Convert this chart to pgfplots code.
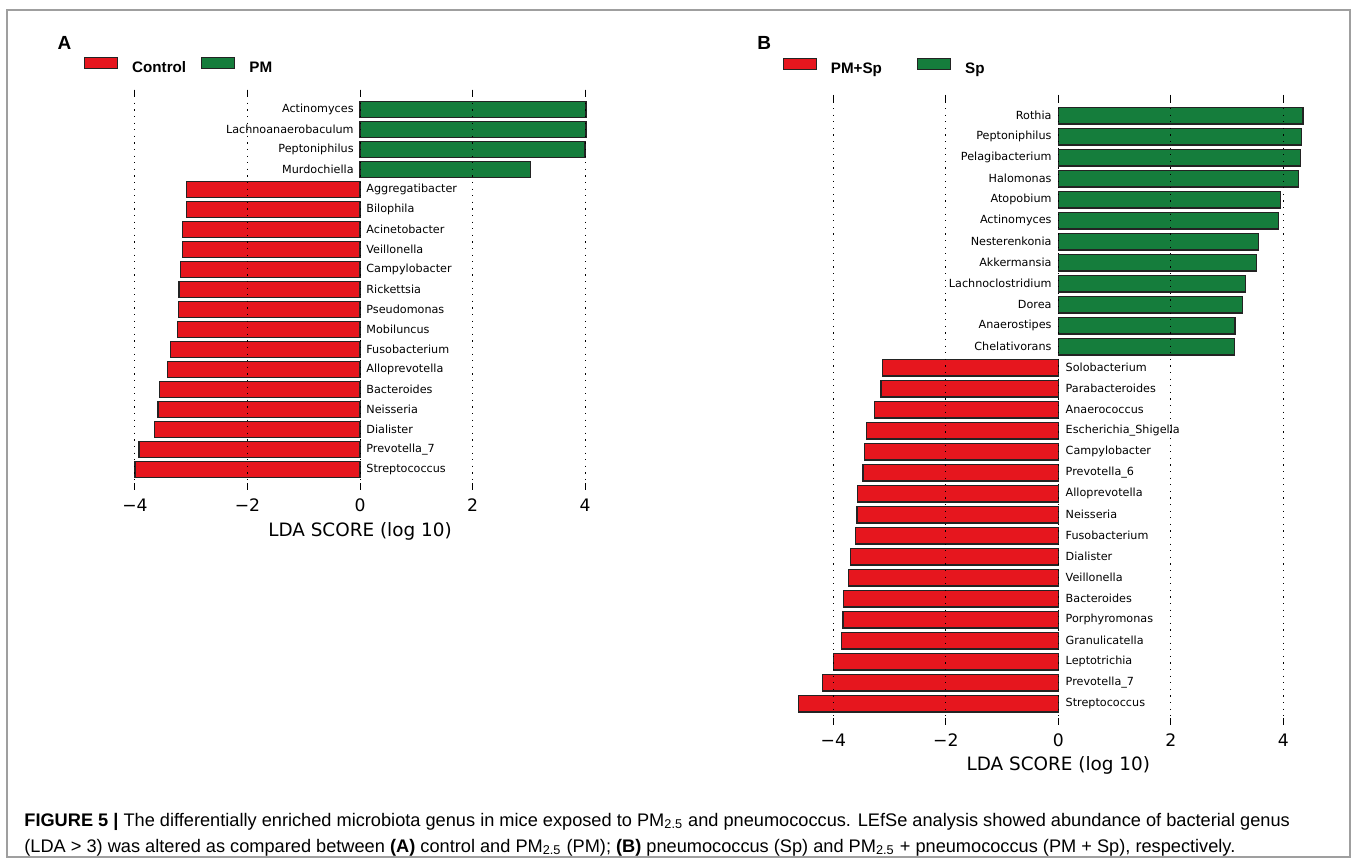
\documentclass[border=0pt]{standalone}
\usepackage{fontspec}
\setmainfont{DejaVu Sans}
\newfontfamily\lib{Liberation Sans}
\usepackage{pgfplots}
\pgfplotsset{compat=1.18}
\usepackage{pgfplotstable}

\definecolor{barred}{RGB}{230,22,30}
\definecolor{bargreen}{RGB}{21,125,60}
\definecolor{edge}{RGB}{35,35,35}

% panel A: control vs PM
\pgfplotstableread{
row score name
0 4.02 Actinomyces
1 4.02 Lachnoanaerobaculum
2 4.00 Peptoniphilus
3 3.03 Murdochiella
}\greenA
\pgfplotstableread{
row score name
4 -3.08 Aggregatibacter
5 -3.09 Bilophila
6 -3.15 Acinetobacter
7 -3.16 Veillonella
8 -3.19 Campylobacter
9 -3.22 Rickettsia
10 -3.23 Pseudomonas
11 -3.25 Mobiluncus
12 -3.37 Fusobacterium
13 -3.42 Alloprevotella
14 -3.57 Bacteroides
15 -3.59 Neisseria
16 -3.65 Dialister
17 -3.93 Prevotella\_7
18 -4.00 Streptococcus
}\redA

% panel B: Sp vs PM+Sp
\pgfplotstableread{
row score name
0 4.35 Rothia
1 4.32 Peptoniphilus
2 4.30 Pelagibacterium
3 4.27 Halomonas
4 3.95 Atopobium
5 3.92 Actinomyces
6 3.56 Nesterenkonia
7 3.52 Akkermansia
8 3.33 Lachnoclostridium
9 3.28 Dorea
10 3.14 Anaerostipes
11 3.13 Chelativorans
}\greenB
\pgfplotstableread{
row score name
12 -3.12 Solobacterium
13 -3.15 Parabacteroides
14 -3.27 Anaerococcus
15 -3.41 Escherichia\_Shigella
16 -3.45 Campylobacter
17 -3.47 Prevotella\_6
18 -3.57 Alloprevotella
19 -3.58 Neisseria
20 -3.61 Fusobacterium
21 -3.69 Dialister
22 -3.73 Veillonella
23 -3.82 Bacteroides
24 -3.83 Porphyromonas
25 -3.86 Granulicatella
26 -4.00 Leptotrichia
27 -4.19 Prevotella\_7
28 -4.62 Streptococcus
}\redB

\pgfplotsset{
  lefse/.style={
    scale only axis, axis on top, clip=false,
    axis line style={draw=none},
    ytick=\empty, y dir=reverse,
    xtick={-4,-2,0,2,4}, xticklabels={−4,−2,0,2,4},
    tick align=inside, major tick length=3.4pt,
    tick style={black, line width=0.5pt},
    xmajorgrids,
    major grid style={black, line width=0.5pt, dash pattern=on 0.6pt off 2.7pt},
    ticklabel style={font=\fontsize{8.6}{10}\selectfont},
    label style={font=\fontsize{9.2}{11}\selectfont},
    xlabel={LDA SCORE (log 10)},
    legend columns=2,
    legend style={draw=none, fill=none, inner sep=0pt, outer sep=0pt,
      anchor=west, font=\lib\bfseries\fontsize{7.6}{9}\selectfont,
      nodes={inner sep=0pt}, /tikz/column sep=7pt},
  },
  bars/.style={xbar, bar shift=0pt, draw=edge, line width=0.65pt,
    legend image code/.code={\draw[##1, line width=0.6pt] (0pt,0.2pt) rectangle (16.5pt,5.6pt);}},
  names/.style={forget plot, draw=none, mark=none, nodes near coords,
    point meta=explicit symbolic,
    nodes near coords style={font=\fontsize{5.6}{6.5}\selectfont, inner sep=0pt}},
}

\begin{document}
\begin{tikzpicture}
\useasboundingbox (0,0) rectangle (678.5pt,432pt);
\draw[gray!75, line width=0.8pt] (3.5pt,3.5pt) rectangle (675pt,427pt);

\node[anchor=base west, inner sep=0pt, font=\lib\bfseries\fontsize{9.5}{11}\selectfont] at (28.6pt,407pt) {A};
\node[anchor=base west, inner sep=0pt, font=\lib\bfseries\fontsize{9.5}{11}\selectfont] at (378.5pt,407pt) {B};

\begin{axis}[lefse, at={(56.25pt,187.25pt)}, anchor=south west,
  width=247.5pt, height=200pt, xmin=-4.4, xmax=4.4, ymin=-1, ymax=19,
  xticklabel style={anchor=base, yshift=-11.1pt},
  xlabel style={at={(axis description cs:0.5,0)}, anchor=base, yshift=-23.6pt},
  legend style={at={(axis description cs:-0.0576,1.0575)},
    /tikz/every even column/.append style={column sep=7.5pt}}]
  \addplot[bars, bar width=8.1pt, fill=barred] table[x=score, y=row] {\redA};
  \addlegendentry{Control}
  \addplot[bars, bar width=8.1pt, fill=bargreen] table[x=score, y=row] {\greenA};
  \addlegendentry{PM}
  \addplot[names, nodes near coords style={anchor=east, xshift=-3pt}]
    table[x expr=0, y=row, meta=name] {\greenA};
  \addplot[names, nodes near coords style={anchor=west, xshift=3pt}]
    table[x expr=0, y=row, meta=name] {\redA};
\end{axis}

\begin{axis}[lefse, at={(394.15pt,69.6pt)}, anchor=south west,
  width=270pt, height=315pt, xmin=-4.8, xmax=4.8, ymin=-1, ymax=29,
  xticklabel style={anchor=base, yshift=-10.95pt},
  xlabel style={at={(axis description cs:0.5,0)}, anchor=base, yshift=-22.85pt},
  legend style={at={(axis description cs:-0.0104,1.0433)},
    /tikz/every even column/.append style={column sep=17.5pt}}]
  \addplot[bars, bar width=8.3pt, fill=barred] table[x=score, y=row] {\redB};
  \addlegendentry{PM+Sp}
  \addplot[bars, bar width=8.3pt, fill=bargreen] table[x=score, y=row] {\greenB};
  \addlegendentry{Sp}
  \addplot[names, nodes near coords style={anchor=east, xshift=-3.2pt}]
    table[x expr=0, y=row, meta=name] {\greenB};
  \addplot[names, nodes near coords style={anchor=west, xshift=3.5pt}]
    table[x expr=0, y=row, meta=name] {\redB};
\end{axis}

\node[anchor=base west, inner sep=0pt, font=\lib\fontsize{9.1}{11}\selectfont] at (12pt,19pt)
  {{\bfseries FIGURE 5 |} The differentially enriched microbiota genus in mice exposed to PM\textsubscript{2.5} and pneumococcus. LEfSe analysis showed abundance of bacterial genus};
\node[anchor=base west, inner sep=0pt, font=\lib\fontsize{9.1}{11}\selectfont] at (12pt,6pt)
  {(LDA > 3) was altered as compared between {\bfseries (A)} control and PM\textsubscript{2.5} (PM); {\bfseries (B)} pneumococcus (Sp) and PM\textsubscript{2.5} + pneumococcus (PM + Sp), respectively.};
\end{tikzpicture}
\end{document}
